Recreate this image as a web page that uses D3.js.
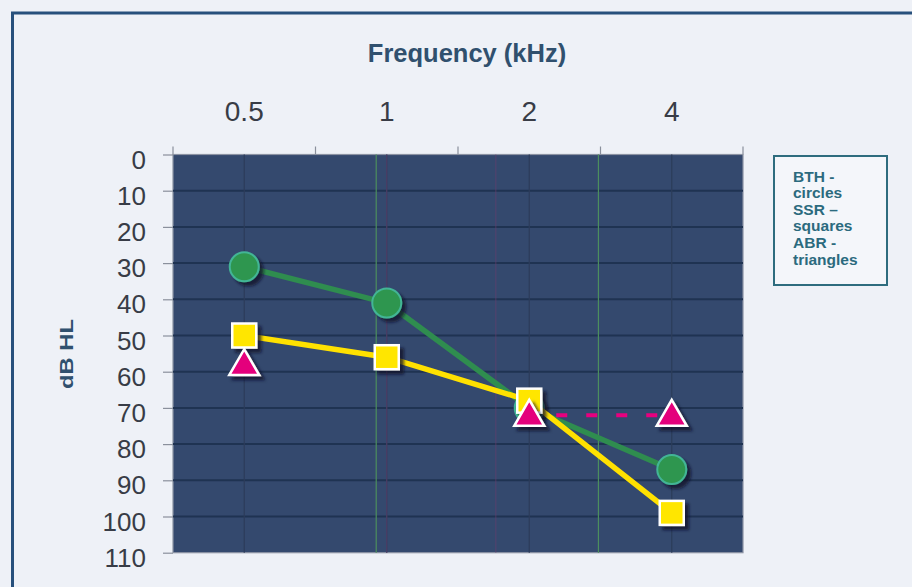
<!DOCTYPE html>
<html><head><meta charset="utf-8">
<script src="https://cdn.jsdelivr.net/npm/d3@7/dist/d3.min.js"></script>
<style>
html,body{margin:0;padding:0;background:#eef1f7;}
svg{display:block;font-family:"Liberation Sans",Arial,sans-serif;}
</style></head>
<body>
<svg id="chart" width="912" height="587"></svg>
<script>
// ---- data ----
const freqLabels = ["0.5", "1", "2", "4"];          // kHz
const yTickValues = [0, 10, 20, 30, 40, 50, 60, 70, 80, 90, 100, 110];
const bthCircles = [31, 41, 70, 87];                  // BTH - circles
const ssrSquares = [50, 56, 68, 99];                  // SSR - squares
const abrTriangles = [58, null, 72, 72];              // ABR - triangles
const legendLines = ["BTH -", "circles", "SSR \u2013", "squares", "ABR -", "triangles"];
const accentGridFreqs = [0.95, 2.8];                  // faint green verticals (kHz)
const pinkGridFreqs = [1.0, 1.7];                     // faint pink verticals (kHz)

const svg = d3.select("#chart");
const W = 912, H = 587;
const plot = {left: 173, right: 743, top: 154.5, bottom: 552.7};

const x = d3.scaleBand().domain(freqLabels).range([plot.left, plot.right]).padding(0);
const cx = f => x(f) + x.bandwidth() / 2;
const xLog = d3.scaleLog().base(2).domain([0.5, 4]).range([cx("0.5"), cx("4")]);
const y = d3.scaleLinear().domain([0, 110]).range([plot.top, plot.bottom]);

// background + frame
svg.append("rect").attr("width", W).attr("height", H).attr("fill", "#eef1f7");
svg.append("rect").attr("x", 12.5).attr("y", 13).attr("width", W + 20).attr("height", H + 20)
  .attr("fill", "none").attr("stroke", "#27507c").attr("stroke-width", 3);

// shadow filter
const defs = svg.append("defs");
const f = defs.append("filter").attr("id", "shadow").attr("x", "-50%").attr("y", "-50%").attr("width", "200%").attr("height", "200%");
f.append("feDropShadow").attr("dx", 4).attr("dy", 4).attr("stdDeviation", 1.6)
  .attr("flood-color", "#0f1626").attr("flood-opacity", 0.75);

// plot background
svg.append("rect").attr("x", plot.left).attr("y", plot.top)
  .attr("width", plot.right - plot.left).attr("height", plot.bottom - plot.top)
  .attr("fill", "#34496e").attr("stroke", "#8c93a3").attr("stroke-width", 1.2);

const grid = svg.append("g");
// horizontal grid
grid.selectAll("line.h").data(yTickValues.slice(1, -1)).join("line")
  .attr("x1", plot.left).attr("x2", plot.right)
  .attr("y1", d => y(d)).attr("y2", d => y(d))
  .attr("stroke", "#1f3352").attr("stroke-width", 2);
// faint verticals at category centres
grid.selectAll("line.c").data(freqLabels).join("line")
  .attr("x1", d => cx(d)).attr("x2", d => cx(d))
  .attr("y1", plot.top).attr("y2", plot.bottom)
  .attr("stroke", "#2c3c5a").attr("stroke-width", 1.2);
grid.selectAll("line.p").data(pinkGridFreqs).join("line")
  .attr("x1", d => xLog(d)).attr("x2", d => xLog(d))
  .attr("y1", plot.top).attr("y2", plot.bottom)
  .attr("stroke", "#6d3d6e").attr("stroke-width", 1).attr("opacity", 0.6);
grid.selectAll("line.g").data(accentGridFreqs).join("line")
  .attr("x1", d => xLog(d)).attr("x2", d => xLog(d))
  .attr("y1", plot.top).attr("y2", plot.bottom)
  .attr("stroke", "#4c8e5e").attr("stroke-width", 1.2);

// top axis: labels at centres, ticks at band edges
const topAxis = svg.append("g").attr("transform", `translate(0,${plot.top})`)
  .call(d3.axisTop(x).tickSize(0).tickPadding(33.5));
topAxis.select(".domain").remove();
topAxis.selectAll("text").attr("font-size", 28).attr("fill", "#383c46")
  .attr("font-family", "'Liberation Sans', Arial, sans-serif");
const edges = freqLabels.map(d => x(d)).concat([x.range()[1]]);
svg.append("g").selectAll("line").data(edges).join("line")
  .attr("x1", d => d).attr("x2", d => d).attr("y1", plot.top - 8).attr("y2", plot.top)
  .attr("stroke", "#8a909c").attr("stroke-width", 1.2);

// left axis
const leftAxis = svg.append("g").attr("transform", `translate(${plot.left},0)`)
  .call(d3.axisLeft(y).tickValues(yTickValues).tickSize(10).tickPadding(17));
leftAxis.select(".domain").remove();
leftAxis.selectAll("line").attr("stroke", "#8a909c").attr("stroke-width", 1.2);
leftAxis.selectAll("text").attr("font-size", 26).attr("fill", "#383c46").attr("dy", "0.52em")
  .attr("font-family", "'Liberation Sans', Arial, sans-serif");

// titles
svg.append("text").attr("x", 467).attr("y", 62).attr("text-anchor", "middle")
  .attr("font-size", 25.5).attr("font-weight", "bold").attr("fill", "#30506e")
  .text("Frequency (kHz)");
svg.append("text").attr("transform", "translate(73,354) rotate(-90)").attr("text-anchor", "middle")
  .attr("font-size", 18).attr("font-weight", "bold").attr("fill", "#30506e")
  .attr("textLength", 70).attr("lengthAdjust", "spacingAndGlyphs")
  .text("dB HL");

// series
const pts = arr => freqLabels.map((fq, i) => ({f: fq, v: arr[i]}));
const line = d3.line().defined(d => d.v != null).x(d => cx(d.f)).y(d => y(d.v));

// BTH
svg.append("path").datum(pts(bthCircles)).attr("d", line)
  .attr("fill", "none").attr("stroke", "#2f8d4f").attr("stroke-width", 5.5);
svg.append("g").attr("filter", "url(#shadow)").selectAll("circle")
  .data(pts(bthCircles)).join("circle")
  .attr("cx", d => cx(d.f)).attr("cy", d => y(d.v)).attr("r", 14.5)
  .attr("fill", "#2f9650").attr("stroke", "#43b596").attr("stroke-width", 2);

// SSR
svg.append("path").datum(pts(ssrSquares)).attr("d", line)
  .attr("fill", "none").attr("stroke", "#ffe100").attr("stroke-width", 5.5);
svg.append("g").attr("filter", "url(#shadow)").selectAll("rect")
  .data(pts(ssrSquares)).join("rect")
  .attr("x", d => cx(d.f) - 12).attr("y", d => y(d.v) - 12)
  .attr("width", 24).attr("height", 24)
  .attr("fill", "#ffe600").attr("stroke", "#ffffff").attr("stroke-width", 2.5);

// ABR
const abrPts = pts(abrTriangles).filter(d => d.v != null);
svg.append("path").datum(abrPts.filter(d => d.f !== "0.5")).attr("d", d3.line().x(d => cx(d.f)).y(d => y(d.v)))
  .attr("fill", "none").attr("stroke", "#e8007f").attr("stroke-width", 4)
  .attr("stroke-dasharray", "11,19").attr("stroke-dashoffset", 3);
const tri = d3.symbol().type(d3.symbolTriangle).size(390);
svg.append("g").attr("filter", "url(#shadow)").selectAll("path")
  .data(abrPts).join("path")
  .attr("transform", d => `translate(${cx(d.f)},${y(d.v) + 2})`)
  .attr("d", tri)
  .attr("fill", "#e4007c").attr("stroke", "#ffffff").attr("stroke-width", 2.5);

// legend
svg.append("rect").attr("x", 774).attr("y", 156).attr("width", 113).attr("height", 129)
  .attr("fill", "#f4f6fa").attr("stroke", "#2e6c7e").attr("stroke-width", 2);
svg.append("g").selectAll("text").data(legendLines).join("text")
  .attr("x", 793).attr("y", (d, i) => 181.5 + i * 16.6)
  .attr("font-size", 15.5).attr("font-weight", "bold").attr("fill", "#2b6a7e")
  .text(d => d);
</script>
</body></html>
